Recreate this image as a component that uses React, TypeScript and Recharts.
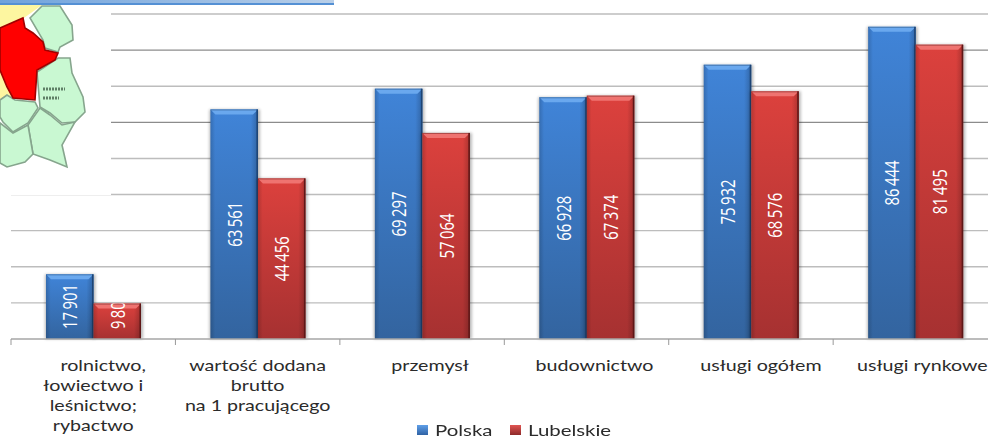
// Wartość dodana brutto na 1 pracującego: Polska vs Lubelskie, bevelled columns with a map inset.
import { Bar, BarChart, CartesianGrid, LabelList, Legend, XAxis, YAxis } from 'recharts'

const categories = [
  'rolnictwo,\nłowiectwo i\nleśnictwo;\nrybactwo',
  'wartość dodana\nbrutto\nna 1 pracującego',
  'przemysł',
  'budownictwo',
  'usługi ogółem',
  'usługi rynkowe',
]
const polska = [17901, 63561, 69297, 66928, 75932, 86444]
const lubelskie = [9800, 44456, 57064, 67374, 68576, 81495]
const lightGridValues = [10000, 20000, 30000, 40000, 50000, 70000, 90000]
const darkGridValues = [60000, 80000]

const data = categories.map((name, i) => ({ name, polska: polska[i], lubelskie: lubelskie[i] }))

const W = 998
const H = 437
const LEFT = 11
const TOP = 14
const BASE_Y = 339
const BAND = (W - LEFT - 0.4) / categories.length
const tickNudge = [0, 0, 8, 8, 10, 7]
const TEXT = '#2b2b2b'

const thin = (v: number) => String(v).replace(/\B(?=(\d{3})+$)/g, '\u2009')

function CategoryTick({ x, payload, index }: any) {
  const lines = String(payload.value).split('\n')
  const i = payload.index ?? index
  const cx = x + tickNudge[i]
  return (
    <g>
      <line x1={x - BAND / 2} x2={x - BAND / 2} y1={BASE_Y} y2={BASE_Y + 6} stroke="#999" />
      {i === categories.length - 1 && (
        <line x1={x + BAND / 2} x2={x + BAND / 2} y1={BASE_Y} y2={BASE_Y + 6} stroke="#999" />
      )}
      {lines.map((line, n) => (
        <text
          key={n}
          textAnchor="middle"
          fontFamily="Lato"
          fontSize={15}
          fill={TEXT}
          transform={`translate(${cx + (i === 0 && n === 0 ? 10 : 0)},${BASE_Y + 32 + n * 19.9}) scale(1.31,1)`}
        >
          {line}
        </text>
      ))}
    </g>
  )
}

function BevelBar({ x, y, width, height, tone }: any) {
  const b = 5
  const top = tone === 'blue' ? '#6aa8ee' : '#ef7370'
  const edge = tone === 'blue' ? '#1d4474' : '#5e1717'
  return (
    <g>
      <rect x={x - 1} y={y} width={width + 3} height={height} fill="#000" opacity={0.28} filter="url(#barShadow)" />
      <rect x={x} y={y} width={width} height={height} fill={`url(#${tone}Body)`} />
      <rect x={x} y={y} width={width} height={height} fill="url(#barSides)" />
      <polygon points={`${x},${y} ${x + width},${y} ${x + width - b},${y + b} ${x + b},${y + b}`} fill={top} />
      <rect x={x + width - 1.5} y={y} width={1.5} height={height} fill={edge} />
      <rect x={x} y={y} width={width} height={1} fill={edge} opacity={0.45} />
    </g>
  )
}

function ValueLabel({ x, y, width, height, value, index, id }: any) {
  const digits = String(value).length
  const len = digits * 9
  const cx = x + width / 2
  // long enough bars centre the number; on short ones it sits just above the axis
  const cy = Math.min(y + height / 2, BASE_Y - 10 - len / 2)
  return (
    <g clipPath={`url(#clip-${id}-${index})`}>
      <clipPath id={`clip-${id}-${index}`}>
        <rect x={x} y={y} width={width} height={height} />
      </clipPath>
      <text
        x={cx}
        y={cy}
        textAnchor="middle"
        dominantBaseline="central"
        fontFamily="'Liberation Sans Narrow', 'Open Sans'"
        fontSize={20}
        fill="#fff"
        textLength={len}
        lengthAdjust="spacingAndGlyphs"
        transform={`rotate(-90 ${cx} ${cy})`}
      >
        {thin(value)}
      </text>
    </g>
  )
}

function LegendBox({ payload }: any) {
  return (
    <div style={{ display: 'flex', fontFamily: 'Lato', fontSize: 15, color: TEXT, lineHeight: '14px' }}>
      {(payload ?? []).map((p: any, i: number) => (
        <div key={p.value} style={{ display: 'flex', alignItems: 'center', width: i === 0 ? 93 : 100 }}>
          <span
            style={{
              width: 11,
              height: 10,
              marginRight: 7,
              background: `linear-gradient(${p.color === '#3f7fd0' ? '#5f9fe8, #2f62a4' : '#e05552, #8e2a2a'})`,
            }}
          />
          <span style={{ display: 'inline-block', transform: 'scaleX(1.36)', transformOrigin: 'left center' }}>
            {p.value}
          </span>
        </div>
      ))}
    </div>
  )
}

function MapInset() {
  const green = '#c9f8d2'
  const line = '#86a58d'
  return (
    <svg width={111} height={195} style={{ position: 'absolute', left: 0, top: 0 }}>
      <defs>
        <filter id="mapBlur">
          <feGaussianBlur stdDeviation="0.7" />
        </filter>
      </defs>
      <rect x={0} y={5} width={111} height={190} fill="#fff" />
      <g filter="url(#mapBlur)" stroke={line} strokeWidth={1.6}>
        <polygon points="0,5 42,5 24,18 0,30" fill="#fdf6a0" stroke="none" />
        <polygon points="0,68 7,85 14,98 7,96 0,101" fill="#fdf6a0" stroke="none" />
        <polygon points="30,18 42,6 60,6 72,25 73,40 60,47 58,52 45,48 43,40" fill={green} />
        <polygon points="58,58 70,58 72,73 83,97 85,112 75,122 62,123 50,113 40,107 37,72" fill={green} />
        <polygon points="0,100 7,95 15,100 35,102 38,108 28,123 13,132 3,122 0,117" fill={green} />
        <polygon points="40,108 50,115 62,125 75,122 62,145 67,167 50,160 33,154 28,125" fill={green} />
        <polygon points="0,123 13,133 28,125 33,154 25,162 7,167 0,163" fill={green} />
        <polygon
          points="0,28 23,18 25,28 33,33 43,42 45,50 58,53 55,60 37,70 35,100 13,98 7,87 0,70"
          fill="#ff0000"
          stroke="#a00000"
        />
        <path d="M43 89h22M43 98h16" stroke="#5f7f66" strokeWidth={3} strokeDasharray="2 1" />
      </g>
    </svg>
  )
}

export default function App() {
  return (
    <div style={{ position: 'absolute', left: 0, top: 0, width: 988, height: H, overflow: 'hidden', background: '#fff' }}>
      <BarChart
        width={W}
        height={H}
        data={data}
        margin={{ top: TOP, right: 0.4, bottom: 0, left: LEFT }}
        barSize={47.5}
        barGap={0}
      >
        <defs>
          <linearGradient id="blueBody" x1="0" y1="0" x2="0" y2="1">
            <stop offset="0%" stopColor="#4084d8" />
            <stop offset="100%" stopColor="#33649f" />
          </linearGradient>
          <linearGradient id="redBody" x1="0" y1="0" x2="0" y2="1">
            <stop offset="0%" stopColor="#dc413d" />
            <stop offset="100%" stopColor="#a63131" />
          </linearGradient>
          <linearGradient id="barSides" x1="0" y1="0" x2="1" y2="0">
            <stop offset="0%" stopColor="#000" stopOpacity={0.16} />
            <stop offset="10%" stopColor="#000" stopOpacity={0} />
            <stop offset="85%" stopColor="#000" stopOpacity={0} />
            <stop offset="100%" stopColor="#000" stopOpacity={0.22} />
          </linearGradient>
          <filter id="barShadow" x="-20%" y="-5%" width="140%" height="110%">
            <feGaussianBlur stdDeviation="1.5" />
          </filter>
        </defs>
        <CartesianGrid vertical={false} stroke="#bdbdbd" strokeWidth={1.4} horizontalValues={lightGridValues} />
        <CartesianGrid vertical={false} stroke="#8c8c8c" strokeWidth={1.2} horizontalValues={darkGridValues} />
        <YAxis hide domain={[0, 90000]} />
        <XAxis
          dataKey="name"
          height={H - BASE_Y}
          interval={0}
          tickLine={false}
          axisLine={{ stroke: '#a6a6a6', strokeWidth: 1.4 }}
          tick={(p: any) => <CategoryTick {...p} />}
        />
        <Legend
          verticalAlign="middle"
          align="center"
          itemSorter={null}
          content={(p: any) => <LegendBox {...p} />}
          wrapperStyle={{ left: 417, top: 423, width: 210, height: 14, margin: 0 }}
        />
        <Bar dataKey="polska" name="Polska" fill="#3f7fd0" isAnimationActive={false} shape={(p: any) => <BevelBar {...p} tone="blue" />}>
          <LabelList dataKey="polska" content={(p: any) => <ValueLabel {...p} id="pl" />} />
        </Bar>
        <Bar dataKey="lubelskie" name="Lubelskie" fill="#c83b38" isAnimationActive={false} shape={(p: any) => <BevelBar {...p} tone="red" />}>
          <LabelList dataKey="lubelskie" content={(p: any) => <ValueLabel {...p} id="lu" />} />
        </Bar>
      </BarChart>
      <MapInset />
      <div
        style={{
          position: 'absolute',
          left: 0,
          top: 0,
          width: 334,
          height: 3,
          background: 'linear-gradient(90deg, #6fa2dc, #b9cfe8)',
        }}
      />
      <div style={{ position: 'absolute', left: 0, top: 3, width: 334, height: 2, background: '#5490d4' }} />
    </div>
  )
}
